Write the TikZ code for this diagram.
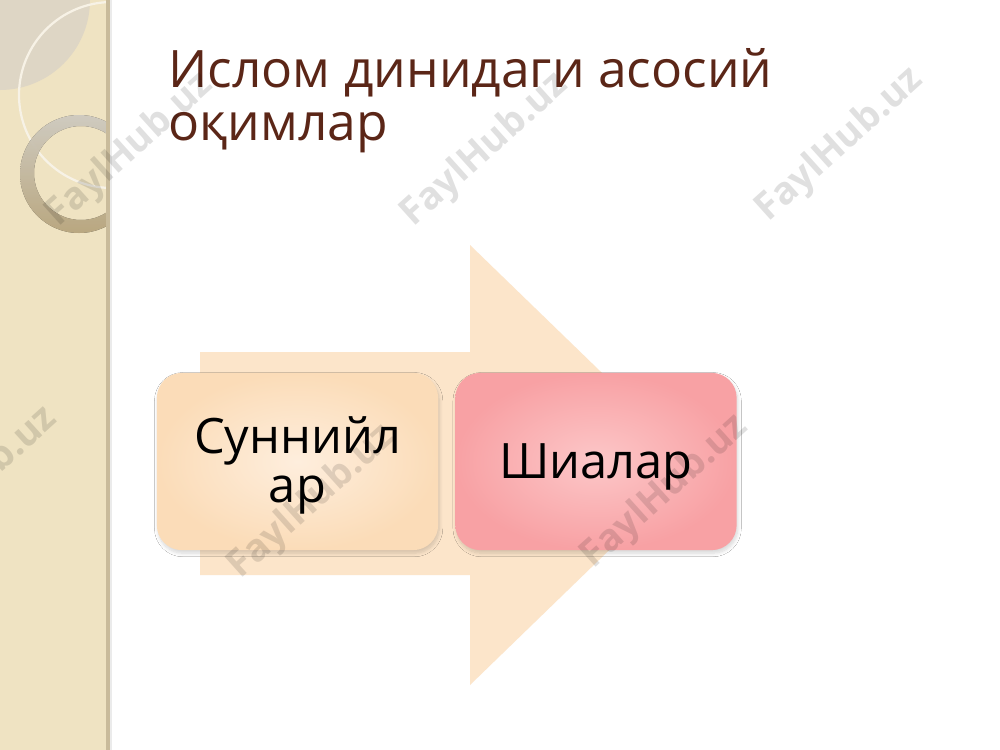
\documentclass[tikz,border=0pt]{standalone}
\usepackage{fontspec}
\setmainfont{Open Sans}
\usetikzlibrary{shadows.blur}
\definecolor{stripc}{HTML}{EFE3C2}
\definecolor{stripedge}{HTML}{C9BB9B}
\definecolor{diskc}{HTML}{DED6C5}
\definecolor{ringlight}{HTML}{F7F2E6}
\definecolor{ringdark}{HTML}{DCC697}
\definecolor{titlec}{HTML}{5B2617}
\definecolor{arrowc}{HTML}{FCE5CA}
\definecolor{peachin}{HTML}{FEEEDD}
\definecolor{peachout}{HTML}{FBDCB8}
\definecolor{pinkin}{HTML}{FCC7C8}
\definecolor{pinkout}{HTML}{F8A1A4}
\tikzset{
  box/.style={rounded corners=0.625cm, minimum width=7.03cm, minimum height=4.43cm,
    inner sep=0pt,
    blur shadow={shadow xshift=0.8pt, shadow yshift=-2.2pt, shadow opacity=16, shadow blur steps=8, shadow blur radius=2.5pt}},
  boxtext/.style={anchor=base, inner sep=0pt, text=black, font=\fontsize{34.7}{34}\selectfont},
  titletext/.style={anchor=base west, inner sep=0pt, text=titlec, font=\fontsize{36.7}{37.6}\selectfont},
  wm/.style={rotate=42, text=black, opacity=0.12, font=\bfseries\fontsize{27}{30}\selectfont}
}
\begin{document}
\begin{tikzpicture}[x=0.025cm,y=-0.025cm]
\useasboundingbox (0,0) rectangle (1000,750);
\fill[white] (0,0) rectangle (1000,750);
% left strip
\begin{scope}
\clip (0,0) rectangle (107,750);
\fill[stripc] (0,0) rectangle (107,750);
\fill[diskc] (0,0) circle (90);
\draw[ringlight, line width=1.6pt] (112,95) circle (93);
\fill[even odd rule, top color=ringlight, bottom color=ringdark, opacity=0.8]
  (79,174) circle (59) (81,173) circle (47);
\end{scope}
\fill[stripedge] (106,0) rectangle (110,750);
\fill[black!8] (110,0) rectangle (112,750);
% title
\node[titletext] (t1) at (168,87) {Ислом динидаги асосий};
\node[titletext] (t2) at (168,140) {оқимлар};
% arrow
\fill[arrowc] (200,352) -- (470,352) -- (470,245) -- (697,465) -- (470,685) -- (470,575) -- (200,575) -- cycle;
% boxes
\node[box, inner color=peachin, outer color=peachout] (sunni) at (297.5,461.5) {};
\node[box, inner color=pinkin, outer color=pinkout] (shia) at (596,461.5) {};
\node[boxtext] (sunnia) at (297.5,453) {Суннийл};
\node[boxtext] (sunnib) at (297.5,502) {ар};
\node[boxtext] (shial) at (596,478) {Шиалар};
% watermarks
\node[wm] (w1) at (130,150) {FaylHub.uz};
\node[wm] (w2) at (485,150) {FaylHub.uz};
\node[wm] (w3) at (840,145) {FaylHub.uz};
\node[wm] (w4) at (-26,484) {FaylHub.uz};
\node[wm] (w5) at (312,502) {FaylHub.uz};
\node[wm] (w6) at (665,492) {FaylHub.uz};
\end{tikzpicture}
\end{document}
